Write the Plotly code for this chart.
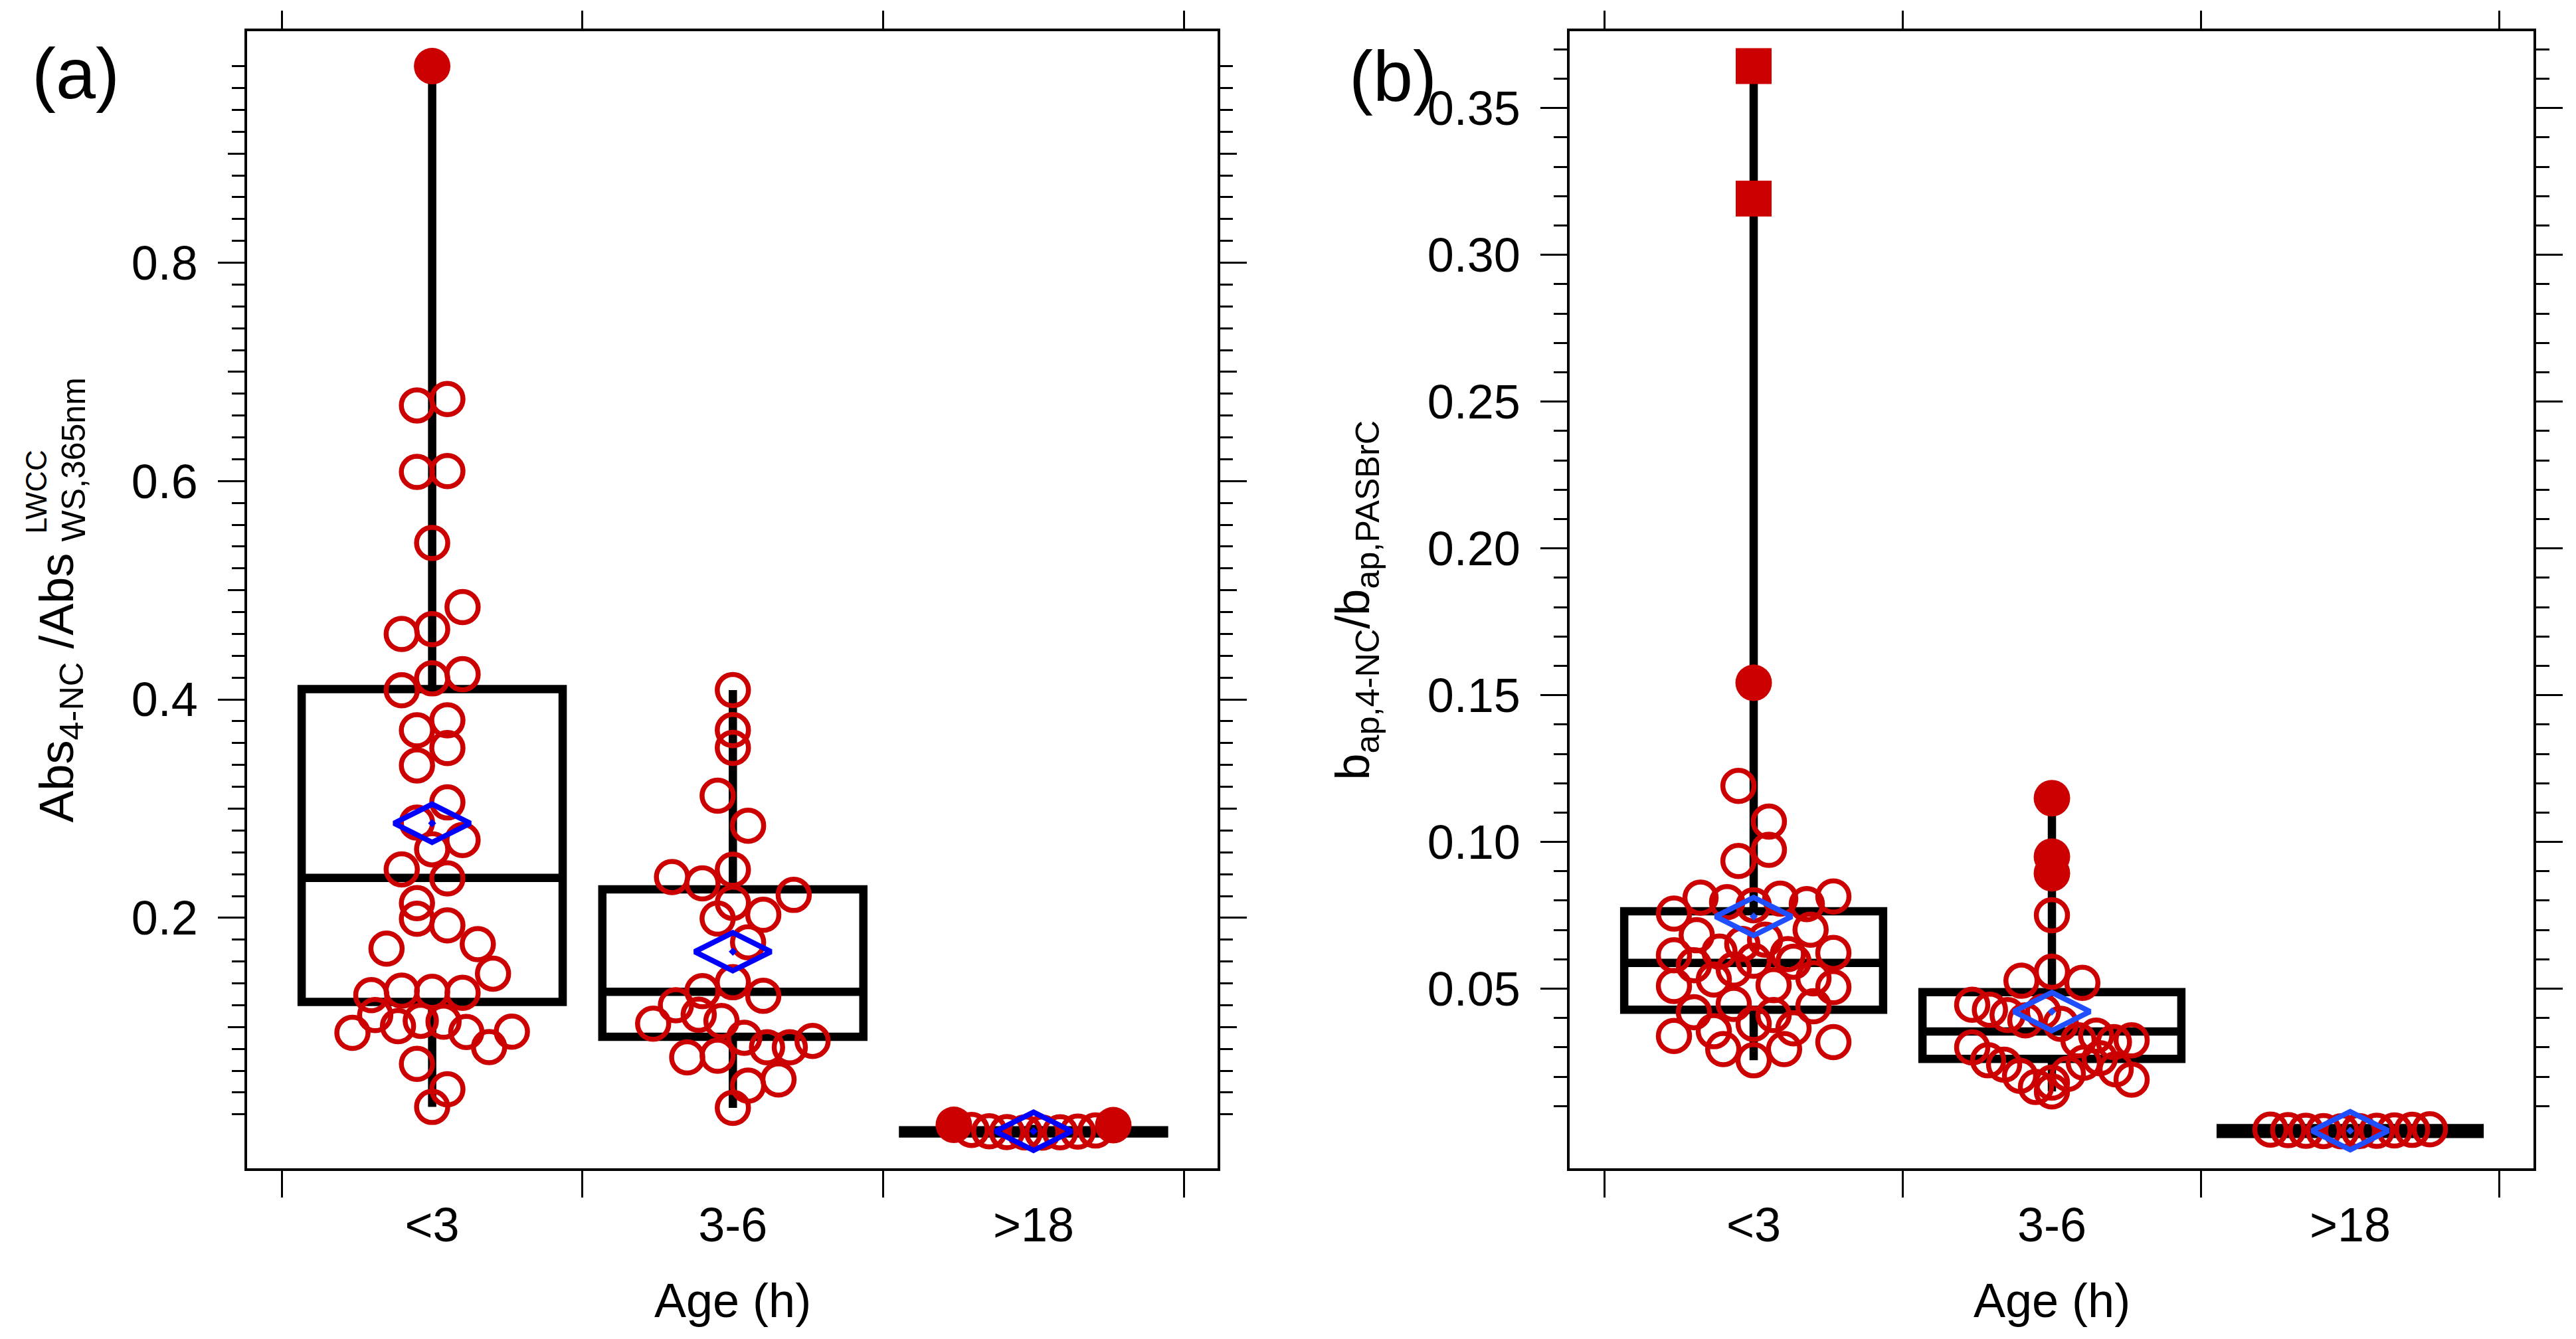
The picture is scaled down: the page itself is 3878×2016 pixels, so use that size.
import plotly.graph_objects as go

# page has an 8 px body margin, so the figure is a bit smaller than the window
W, H, OFF = 3862, 2000, 8
FONT = "Liberation Sans, Arial, sans-serif"
RED = "#cc0000"

categories = ["&lt;3", "3-6", "&gt;18"]

# ---- (a) Abs ratio, values per age group
a_lt3 = [0.980,
         0.6693, 0.6752, 0.6084, 0.6092, 0.5433,
         0.4600, 0.4644, 0.4846, 0.4084, 0.4193, 0.4231,
         0.3718, 0.3809, 0.3396, 0.3555, 0.2872, 0.3057,
         0.2443, 0.2628, 0.2712, 0.2134, 0.2361,
         0.1718, 0.1992, 0.1931, 0.1759,
         0.1292, 0.1333, 0.1323, 0.1313, 0.1489,
         0.0947, 0.1110, 0.1008, 0.1057, 0.1049, 0.0954, 0.0816, 0.0958,
         0.0663, 0.0430, 0.0268]
a_3to6 = [0.4086, 0.3557, 0.3719, 0.3119, 0.2844,
          0.2374, 0.2440, 0.2316,
          0.2137, 0.1993, 0.2028, 0.2210, 0.1776,
          0.1329, 0.1410, 0.1286,
          0.1031, 0.1199, 0.1112, 0.1055,
          0.0722, 0.0902, 0.0815, 0.0815, 0.0873, 0.0737,
          0.0463, 0.0520, 0.0260]
a_gt18 = [0.0104, 0.0058, 0.0045, 0.0038, 0.0035, 0.0033, 0.0036, 0.0042, 0.0052, 0.0101]
a_q1 = [0.1230, 0.0910, 0.0025]
a_median = [0.2366, 0.1323, 0.0040]
a_q3 = [0.4095, 0.2261, 0.0055]
a_mean = [0.2866, 0.1690, 0.0045]

# ---- (b) b_ap ratio
b_lt3 = [0.3643, 0.3192, 0.1542, 0.1191, 0.1069, 0.0935, 0.0973,
         0.0756, 0.0810, 0.0795, 0.0784, 0.0807, 0.0788, 0.0814,
         0.0614, 0.0682, 0.0626, 0.0652, 0.0667, 0.0618, 0.0701, 0.0622,
         0.0509, 0.0580, 0.0531, 0.0565, 0.0595, 0.0512, 0.0592, 0.0535, 0.0505,
         0.0339, 0.0420, 0.0355, 0.0448, 0.0380, 0.0410, 0.0365, 0.0440,
         0.0294, 0.0256, 0.0294, 0.0318]
b_3to6 = [0.1149, 0.0893, 0.0950, 0.0750,
          0.0527, 0.0558, 0.0520,
          0.0445, 0.0428, 0.0410, 0.0392, 0.0422, 0.0380,
          0.0324, 0.0340, 0.0318, 0.0300, 0.0324,
          0.0256, 0.0241, 0.0203, 0.0165, 0.0150, 0.0180, 0.0210, 0.0248, 0.0263, 0.0225, 0.0190]
b_gt18 = [0.0020, 0.0018, 0.0016, 0.0015, 0.0014, 0.0015, 0.0016, 0.0017, 0.0019, 0.0021]
b_q1 = [0.0428, 0.0261, 0.0005]
b_median = [0.0588, 0.0354, 0.0015]
b_q3 = [0.0764, 0.0488, 0.0025]
b_mean = [0.0746, 0.0422, 0.0016]


def px_x(x):
    return (x - OFF) / W


def px_y(y):
    return 1 - (y - OFF) / H


# plot frames in reference pixels
A_BOX = (372, 1833)
B_BOX = (2363, 3814)
TOP, BOT = 47, 1759
A_XR, A_YR = [-0.6154, 2.612], [-0.0294, 1.012]
B_XR, B_YR = [-0.617, 2.6147], [-0.0112, 0.3762]


def swarm(vals, px_per_y, px_per_x, bin_px=66.5, step_px=45.8, span_px=240):
    # points in the same horizontal band are spread symmetrically around the centre
    h = bin_px / px_per_y
    bins = {}
    for i, v in enumerate(vals):
        bins.setdefault(int(v // h), []).append(i)
    offs = [0.0] * len(vals)
    for idx in bins.values():
        n = len(idx)
        sp = step_px if n < 2 else min(step_px, span_px / (n - 1))
        for j, i in enumerate(idx):
            offs[i] = (j - (n - 1) / 2) * sp / px_per_x
    return offs


fig = go.Figure()


def add_panel(groups, q1, med, q3, mean, frame, xr, yr, xa, ya, blue):
    px_per_x = (frame[1] - frame[0]) / (xr[1] - xr[0])
    px_per_y = (BOT - TOP) / (yr[1] - yr[0])
    pts = {"open": ([], []), "filled": ([], []), "far": ([], [])}
    for ci, vals in enumerate(groups):
        offs = swarm(vals, px_per_y, px_per_x)
        iqr = q3[ci] - q1[ci]
        for v, o in zip(vals, offs):
            if v > q3[ci] + 3 * iqr or v < q1[ci] - 3 * iqr:
                kind = "far"
            elif v > q3[ci] + 1.5 * iqr or v < q1[ci] - 1.5 * iqr:
                kind = "filled"
            else:
                kind = "open"
            pts[kind][0].append(ci + o)
            pts[kind][1].append(v)

    fig.add_trace(go.Scatter(x=pts["open"][0], y=pts["open"][1], mode="markers", xaxis=xa, yaxis=ya,
                             marker=dict(symbol="circle-open", size=47, color=RED, line=dict(width=7.5, color=RED))))
    fig.add_trace(go.Scatter(x=pts["filled"][0], y=pts["filled"][1], mode="markers", xaxis=xa, yaxis=ya,
                             marker=dict(symbol="circle", size=55, color=RED, line=dict(width=0))))
    fig.add_trace(go.Scatter(x=pts["far"][0], y=pts["far"][1], mode="markers", xaxis=xa, yaxis=ya,
                             marker=dict(symbol="square", size=54, color=RED, line=dict(width=0))))

    fig.add_trace(go.Box(x=[0, 1, 2], q1=q1, median=med, q3=q3,
                         lowerfence=[min(g) for g in groups], upperfence=[max(g) for g in groups],
                         width=0.868, whiskerwidth=0, boxpoints=False,
                         line=dict(color="black", width=12.5), fillcolor="rgba(0,0,0,0)",
                         xaxis=xa, yaxis=ya))
    fig.add_trace(go.Scatter(x=[0, 1, 2], y=mean, mode="markers", xaxis=xa, yaxis=ya,
                             marker=dict(symbol="diamond-wide-open-dot", size=82, color=blue,
                                         line=dict(width=8, color=blue))))


add_panel([a_lt3, a_3to6, a_gt18], a_q1, a_median, a_q3, a_mean, A_BOX, A_XR, A_YR, "x", "y", "#0000ff")
add_panel([b_lt3, b_3to6, b_gt18], b_q1, b_median, b_q3, b_mean, B_BOX, B_XR, B_YR, "x2", "y2", "#1f4fff")

# empty traces so the extra tick axes get drawn
for xa, ya in [("x3", "y"), ("x4", "y2"), ("x", "y3")]:
    fig.add_trace(go.Scatter(x=[], y=[], xaxis=xa, yaxis=ya, hoverinfo="skip"))

bounds = [-0.5, 0.5, 1.5, 2.5]
tickfont = dict(family=FONT, size=72, color="black")

a_minor = [round(0.02 * i, 2) for i in range(1, 50) if i % 5 != 0]
a_mid = [0.1, 0.3, 0.5, 0.7, 0.9]
b_minor = [round(0.01 * i, 2) for i in range(1, 38) if i % 5 != 0]


def xaxis(frame, xr, anchor):
    return dict(domain=[px_x(frame[0]), px_x(frame[1])], range=xr, anchor=anchor,
                tickmode="array", tickvals=[0, 1, 2], ticktext=categories, ticks="",
                tickfont=tickfont, ticklabelstandoff=20,
                minor=dict(tickmode="array", tickvals=bounds, ticks="outside", ticklen=40,
                           tickwidth=3, tickcolor="black"),
                showline=True, linewidth=3.5, linecolor="black", mirror=True,
                showgrid=False, zeroline=False)


def top_axis(over, anchor, xr, frame):
    return dict(overlaying=over, side="top", anchor=anchor, range=xr,
                domain=[px_x(frame[0]), px_x(frame[1])],
                tickmode="array", tickvals=bounds, ticks="outside", ticklen=30, tickwidth=3,
                tickcolor="black", showticklabels=False, showline=False, showgrid=False, zeroline=False)


def yaxis(yr, anchor, vals, fmt, minor, minor_len):
    return dict(domain=[px_y(BOT), px_y(TOP)], range=yr, anchor=anchor,
                tickmode="array", tickvals=vals, tickformat=fmt, ticks="outside", ticklen=40,
                tickwidth=3, tickcolor="black", tickfont=tickfont, ticklabelstandoff=16,
                minor=dict(tickmode="array", tickvals=minor, ticks="outside", ticklen=minor_len,
                           tickwidth=3, tickcolor="black"),
                showline=True, linewidth=3.5, linecolor="black", mirror="ticks",
                showgrid=False, zeroline=False)


fig.update_layout(
    width=W, height=H, margin=dict(l=0, r=0, t=0, b=0),
    paper_bgcolor="white", plot_bgcolor="white", showlegend=False,
    font=dict(family=FONT, color="black"),
    xaxis=xaxis(A_BOX, A_XR, "y"),
    xaxis2=xaxis(B_BOX, B_XR, "y2"),
    xaxis3=top_axis("x", "y", A_XR, A_BOX),
    xaxis4=top_axis("x2", "y2", B_XR, B_BOX),
    yaxis=yaxis(A_YR, "x", [0.2, 0.4, 0.6, 0.8], ".1f", a_minor, 19),
    yaxis2=yaxis(B_YR, "x2", [0.05, 0.1, 0.15, 0.2, 0.25, 0.3, 0.35], ".2f", b_minor, 20),
    yaxis3=dict(overlaying="y", anchor="x", side="left", range=A_YR,
                domain=[px_y(BOT), px_y(TOP)],
                tickmode="array", tickvals=a_mid, ticks="outside", ticklen=28, tickwidth=3,
                tickcolor="black", showticklabels=False, showline=False, mirror="ticks",
                showgrid=False, zeroline=False),
)


def note(text, x, y, size, xanchor="center", yanchor="middle", angle=0):
    fig.add_annotation(text=text, x=px_x(x), y=px_y(y), xref="paper", yref="paper",
                       xanchor=xanchor, yanchor=yanchor, textangle=angle, showarrow=False,
                       font=dict(family=FONT, size=size, color="black"))


note("(a)", 114, 111, 108)
note("(b)", 2097, 114, 108)
note("Age (h)", (A_BOX[0] + A_BOX[1]) / 2, 1958, 72)
note("Age (h)", (B_BOX[0] + B_BOX[1]) / 2, 1958, 72)
note("Abs<sub>4-NC</sub> /Abs", 42, 1241, 72, xanchor="left", yanchor="bottom", angle=-90)
note("LWCC", 27, 806, 44, xanchor="left", yanchor="bottom", angle=-90)
note("WS,365nm", 80, 818, 50, xanchor="left", yanchor="bottom", angle=-90)
note("b<sub>ap,4-NC</sub>/b<sub>ap,PASBrC</sub>", 1993, 903, 72, xanchor="left", angle=-90)

fig.write_html("out.html")
